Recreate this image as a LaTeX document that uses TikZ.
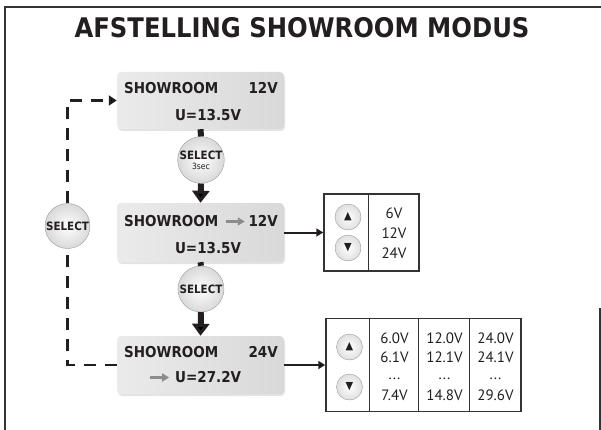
\documentclass[tikz,border=0pt]{standalone}
\usepackage{fontspec}
\setmainfont{DejaVu Sans Condensed}
\newfontfamily\valfont{PT Sans}
\usetikzlibrary{arrows.meta,shadows}
\definecolor{inkcolor}{HTML}{231F20}
\definecolor{framecolor}{HTML}{333333}
\definecolor{keyline}{HTML}{9A9A9A}
\definecolor{hintcolor}{HTML}{8C8C8C}
\tikzset{
  afs frame/.style={draw=framecolor,line width=1.6pt},
  afs title/.style={text=inkcolor,font=\fontsize{27}{30}\selectfont\bfseries},
  afs display/.style={rounded corners=4pt,left color=gray!16,right color=gray!30,
    minimum width=167pt,inner sep=0pt,
    drop shadow={shadow xshift=1pt,shadow yshift=-2pt,opacity=.22}},
  afs label/.style={text=inkcolor,font=\fontsize{15}{17}\selectfont\bfseries,inner sep=0pt},
  afs select/.style={circle,draw=keyline,inner color=white,outer color=gray!30,
    minimum size=46pt,inner sep=0pt,text=inkcolor,align=center,
    font=\fontsize{11.5}{11}\selectfont\bfseries},
  afs push/.style={draw=inkcolor,line width=6pt},
  afs step/.style={afs push,-{Triangle[width=17pt,length=12pt]}},
  afs loop/.style={draw=inkcolor,line width=2.8pt,dash pattern=on 12pt off 9pt},
  afs link/.style={draw=inkcolor,line width=2pt,-{Triangle[width=8pt,length=7pt]}},
  afs table/.style={draw=framecolor,line width=1.5pt,fill=white,inner sep=0pt},
  afs rule/.style={draw=framecolor,line width=1.2pt},
  afs key/.style={circle,draw=keyline,inner color=white,outer color=gray!25,
    minimum size=26pt,inner sep=0pt,text=inkcolor,font=\fontsize{11}{11}\selectfont},
  afs value/.style={text=inkcolor,font=\valfont\fontsize{15}{16}\selectfont,inner sep=0pt,anchor=base}
}
\newcommand{\hint}{\tikz[baseline=-4.5pt]\draw[hintcolor,line width=2.6pt,-{Triangle[width=8pt,length=7pt]}] (0,0) -- (19pt,0);}

\begin{document}
\begin{tikzpicture}[x=1pt,y=-1pt]
  \useasboundingbox (0,0) rectangle (601,430);
  \draw[afs frame] (5,431) -- (5,7) -- (601,7);
  \draw[afs frame] (600,308) -- (600,431);
  \node[afs title] (title) at (302,28) {AFSTELLING SHOWROOM MODUS};

  % displays
  \node[afs display,minimum height=57pt] (disp1) at (200.5,100.5) {};
  \node[afs display,minimum height=59pt] (disp2) at (200.5,232.5) {};
  \node[afs display,minimum height=58pt] (disp3) at (200.5,365) {};
  \node[afs label,anchor=base west] (name1) at (124,94) {SHOWROOM};
  \node[afs label,anchor=base east] (set1) at (278,94) {12V};
  \node[afs label,anchor=base] (volt1) at (208,121) {U=13.5V};
  \node[afs label,anchor=base west] (name2) at (124,226) {SHOWROOM};
  \node[afs label,anchor=base east] (set2) at (278,226) {\hint\,12V};
  \node[afs label,anchor=base] (volt2) at (208,253) {U=13.5V};
  \node[afs label,anchor=base west] (name3) at (124,357) {SHOWROOM};
  \node[afs label,anchor=base east] (set3) at (278,357) {24V};
  \node[afs label,anchor=base] (volt3) at (195,382) {\hint\ U=27.2V};

  % buttons
  \node[afs select] (sel1) at (201,160) {SELECT\\[-1pt]{\fontsize{8.5}{8}\selectfont\mdseries 3sec}};
  \node[afs select] (sel2) at (201,289) {SELECT};
  \node[afs select,minimum size=45pt] (selL) at (67.5,226) {SELECT};
  \draw[afs push] (disp1.south) -- (sel1.north);
  \draw[afs step] (sel1.south) -- (disp2.north);
  \draw[afs push] (disp2.south) -- (sel2.north);
  \draw[afs step] (sel2.south) -- (disp3.north);
  \draw[afs loop] (disp3.west) -| (selL.south);
  \draw[afs loop,-{Triangle[width=10pt,length=8pt]}] (selL.north) |- (disp1.west);

  % first table
  \node[afs table,minimum width=95pt,minimum height=77pt] (tab1) at (371.5,232.5) {};
  \draw[afs rule] ([xshift=45pt]tab1.north west) -- ([xshift=45pt]tab1.south west);
  \node[afs key] (up1) at (348,217) {▲};
  \node[afs key] (down1) at (348,248) {▼};
  \foreach \v/\y [count=\i] in {6V/218,12V/238,24V/258}{
    \node[afs value] (val1\i) at (394,\y) {\v};
  }
  \draw[afs link] (disp2.east) -- (tab1.west);

  % second table
  \node[afs table,minimum width=195pt,minimum height=93pt] (tab2) at (423.5,365) {};
  \foreach \dx in {44,93,144}{
    \draw[afs rule] ([xshift=\dx pt]tab2.north west) -- ([xshift=\dx pt]tab2.south west);
  }
  \node[afs key] (up2) at (349.5,347) {▲};
  \node[afs key] (down2) at (349.5,387) {▼};
  \foreach \x/\a/\b/\c [count=\i] in {394.5/6.0V/6.1V/7.4V,444.5/12.0V/12.1V/14.8V,495.5/24.0V/24.1V/29.6V}{
    \node[afs value] (first\i) at (\x,343) {\a};
    \node[afs value] (second\i) at (\x,362) {\b};
    \node[afs value] (dots\i) at (\x,379) {...};
    \node[afs value] (last\i) at (\x,400) {\c};
  }
  \draw[afs link] (disp3.east) -- (tab2.west);
\end{tikzpicture}
\end{document}
